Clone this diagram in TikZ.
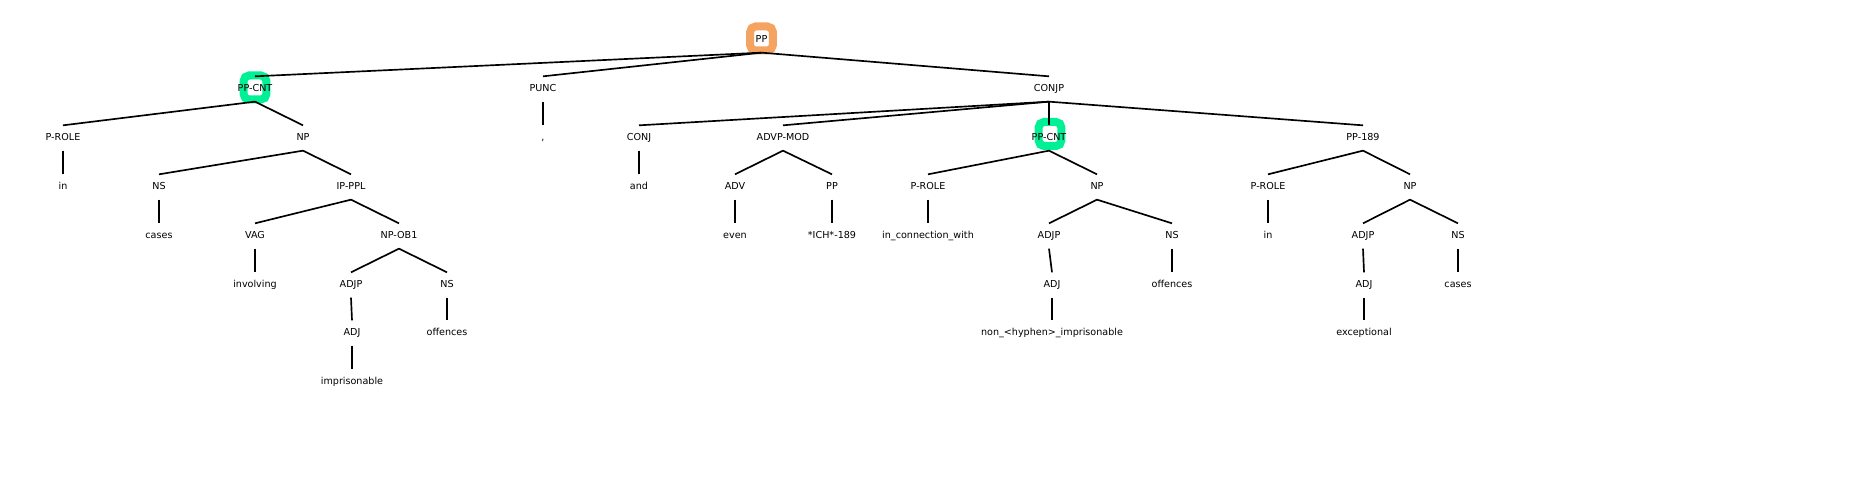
\documentclass[tikz,border=0pt]{standalone}
\usepackage{fontspec}
\setmainfont{DejaVu Sans}
\usetikzlibrary{positioning}
\definecolor{hlorange}{RGB}{244,164,96}
\definecolor{hlgreen}{RGB}{0,240,150}

\begin{document}
\begin{tikzpicture}[
  x=0.75pt, y=-0.75pt,
  every node/.style={font=\fontsize{7.2}{8.6}\selectfont},
  tag/.style = {inner sep=0pt, minimum height=18.6pt, text height=5.5pt, text depth=1.7pt},
  branch/.style = {line width=1.25pt},
  hl box/.style = {line width=6pt, rounded corners=4pt, fill=white, inner sep=0pt, minimum width=17pt, minimum height=18pt}
  ]
	\useasboundingbox (0,-1) rectangle (1866,487);

	% highlighted nodes
	\node[hl box,draw=hlorange] (ppbox) at (761.5,37.5) {};
	\node[hl box,draw=hlgreen] (cntAbox) at (255,86.5) {};
	\node[hl box,draw=hlgreen] (cntBbox) at (1050,133) {};

	\node[tag] (pp) at (761.5,39) {PP};

	\node[tag] (cntA) at (255,88) {PP-CNT};
	\node[tag] (punc) at (543,88) {PUNC};
	\node[tag] (conjp) at (1049,88) {CONJP};

	\node[tag] (proleA) at (63,137) {P-ROLE};
	\node[tag] (npA) at (303,137) {NP};
	\node[tag] (comma) at (543,137) {,};
	\node[tag] (conj) at (639,137) {CONJ};
	\node[tag] (advp) at (783,137) {ADVP-MOD};
	\node[tag] (cntB) at (1049,137) {PP-CNT};
	\node[tag] (pp189) at (1363,137) {PP-189};

	\node[tag] (inA) at (63,186) {in};
	\node[tag] (nsA) at (159,186) {NS};
	\node[tag] (ipppl) at (351,186) {IP-PPL};
	\node[tag] (and) at (639,186) {and};
	\node[tag] (adv) at (735,186) {ADV};
	\node[tag] (ppB) at (832,186) {PP};
	\node[tag] (proleB) at (928,186) {P-ROLE};
	\node[tag] (npB) at (1097,186) {NP};
	\node[tag] (proleC) at (1268,186) {P-ROLE};
	\node[tag] (npC) at (1410,186) {NP};

	\node[tag] (casesA) at (159,235) {cases};
	\node[tag] (vag) at (255,235) {VAG};
	\node[tag] (npob) at (399,235) {NP-OB1};
	\node[tag] (even) at (735,235) {even};
	\node[tag] (ich) at (832,235) {*ICH*-189};
	\node[tag] (inconn) at (928,235) {in\_connection\_with};
	\node[tag] (adjpB) at (1049,235) {ADJP};
	\node[tag] (nsB) at (1172,235) {NS};
	\node[tag] (inC) at (1268,235) {in};
	\node[tag] (adjpC) at (1363,235) {ADJP};
	\node[tag] (nsC) at (1458,235) {NS};

	\node[tag] (involving) at (255,284) {involving};
	\node[tag] (adjpA) at (351,284) {ADJP};
	\node[tag] (nsA2) at (447,284) {NS};
	\node[tag] (adjB) at (1052,284) {ADJ};
	\node[tag] (offB) at (1172,284) {offences};
	\node[tag] (adjC) at (1364,284) {ADJ};
	\node[tag] (casesC) at (1458,284) {cases};

	\node[tag] (adjA) at (352,332) {ADJ};
	\node[tag] (offA) at (447,332) {offences};
	\node[tag] (nonimp) at (1052,332) {non\_<hyphen>\_imprisonable};
	\node[tag] (exc) at (1364,332) {exceptional};

	\node[tag] (imp) at (352,381) {imprisonable};

	% branches
	\draw[branch] (pp.south) -- (cntA.north);
	\draw[branch] (pp.south) -- (punc.north);
	\draw[branch] (pp.south) -- (conjp.north);

	\draw[branch] (cntA.south) -- (proleA.north);
	\draw[branch] (cntA.south) -- (npA.north);
	\draw[branch] (punc.south) -- (comma.north);
	\draw[branch] (conjp.south) -- (conj.north);
	\draw[branch] (conjp.south) -- (advp.north);
	\draw[branch] (conjp.south) -- (cntB.north);
	\draw[branch] (conjp.south) -- (pp189.north);

	\draw[branch] (proleA.south) -- (inA.north);
	\draw[branch] (npA.south) -- (nsA.north);
	\draw[branch] (npA.south) -- (ipppl.north);
	\draw[branch] (conj.south) -- (and.north);
	\draw[branch] (advp.south) -- (adv.north);
	\draw[branch] (advp.south) -- (ppB.north);
	\draw[branch] (cntB.south) -- (proleB.north);
	\draw[branch] (cntB.south) -- (npB.north);
	\draw[branch] (pp189.south) -- (proleC.north);
	\draw[branch] (pp189.south) -- (npC.north);

	\draw[branch] (nsA.south) -- (casesA.north);
	\draw[branch] (ipppl.south) -- (vag.north);
	\draw[branch] (ipppl.south) -- (npob.north);
	\draw[branch] (adv.south) -- (even.north);
	\draw[branch] (ppB.south) -- (ich.north);
	\draw[branch] (proleB.south) -- (inconn.north);
	\draw[branch] (npB.south) -- (adjpB.north);
	\draw[branch] (npB.south) -- (nsB.north);
	\draw[branch] (proleC.south) -- (inC.north);
	\draw[branch] (npC.south) -- (adjpC.north);
	\draw[branch] (npC.south) -- (nsC.north);

	\draw[branch] (vag.south) -- (involving.north);
	\draw[branch] (npob.south) -- (adjpA.north);
	\draw[branch] (npob.south) -- (nsA2.north);
	\draw[branch] (adjpB.south) -- (adjB.north);
	\draw[branch] (nsB.south) -- (offB.north);
	\draw[branch] (adjpC.south) -- (adjC.north);
	\draw[branch] (nsC.south) -- (casesC.north);

	\draw[branch] (adjpA.south) -- (adjA.north);
	\draw[branch] (nsA2.south) -- (offA.north);
	\draw[branch] (adjB.south) -- (nonimp.north);
	\draw[branch] (adjC.south) -- (exc.north);

	\draw[branch] (adjA.south) -- (imp.north);

\end{tikzpicture}
\end{document}
